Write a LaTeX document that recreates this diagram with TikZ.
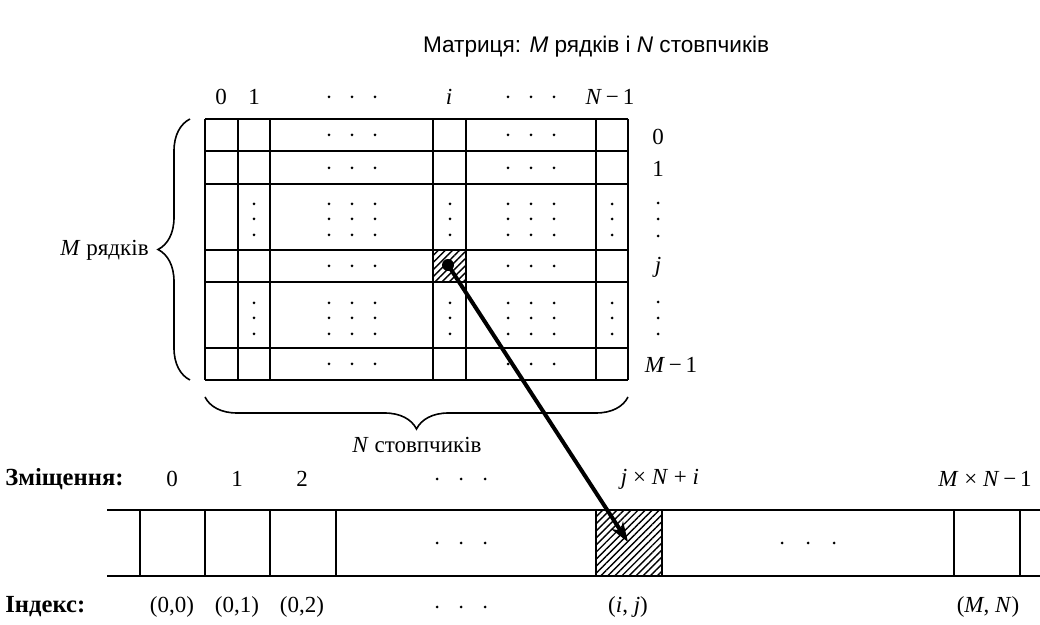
\documentclass[tikz,border=0pt]{standalone}
\usepackage{fontspec}
\setmainfont{Liberation Serif}
\newfontfamily\titlefont{Liberation Sans}
\usetikzlibrary{decorations.pathreplacing,patterns.meta,arrows.meta}
\newcommand\hdts[3]{\foreach \d in {-1,0,1}{\fill ({#1+\d*#3},#2) circle (1.5);}}
\newcommand\vdts[4]{\foreach \yy in {#2,#3,#4}{\fill (#1,\yy) circle (1.5);}}
\begin{document}
\begin{tikzpicture}[x=0.5pt,y=-0.5pt,
  font=\fontsize{11.5}{13}\selectfont,
  gridline/.style={line width=1.2pt},
  lbl/.style={inner sep=0pt},
  hatch/.style={pattern={Lines[angle=45,distance=2.5pt,line width=0.7pt]}},
  bracestyle/.style={decorate,decoration={brace,amplitude=16pt},line width=0.8pt}]
\useasboundingbox (0,0) rectangle (1040,625);

% title
\node[lbl,font=\titlefont\fontsize{11.3}{13}\selectfont] (title) at (596,47) {Матриця: \textit{M} рядків і \textit{N} стовпчиків};

% matrix hatched cell
\node[draw,gridline,hatch,minimum width=16.5pt,minimum height=16pt,inner sep=0pt] (mij) at (449.5,266) {};
% matrix grid
\foreach \x in {205,238,270,433,466,596,628}{\draw[gridline] (\x,119) -- (\x,380);}
\foreach \y in {119,151,184,250,282,348,380}{\draw[gridline] (205,\y) -- (628,\y);}

% dots inside matrix
\foreach \y in {135,168,266,364}{\hdts{352}{\y}{23}\hdts{531}{\y}{23}}
\foreach \a/\b/\c in {204/219/235,303/318/334}{
  \vdts{254}{\a}{\b}{\c}\vdts{450}{\a}{\b}{\c}\vdts{612}{\a}{\b}{\c}
  \foreach \y in {\a,\b,\c}{\hdts{352}{\y}{23}\hdts{531}{\y}{23}}
}

% column labels
\node[lbl] (c0) at (221,97) {0};
\node[lbl] (c1) at (254,97) {1};
\hdts{352}{97}{23}
\node[lbl] (ci) at (449,97) {\textit{i}};
\hdts{531}{97}{23}
\node[lbl] (cn) at (610,97) {\textit{N}\,−\,1};

% row labels
\node[lbl] (r0) at (658,137) {0};
\node[lbl] (r1) at (658,169) {1};
\vdts{658}{203}{219}{236}
\node[lbl] (rj) at (658,267) {\textit{j}};
\vdts{658}{302}{318}{334}
\node[lbl] (rm) at (671,365) {\textit{M}\,−\,1};

% braces
\draw[bracestyle] (190,380) -- (190,119);
\node[lbl,anchor=east] (mrows) at (149,250) {\textit{M} рядків};
\draw[bracestyle] (628,397) -- (205,397);
\node[lbl] (ncols) at (417,445) {\textit{N} стовпчиків};

% linear array
\node[draw,gridline,hatch,minimum width=33pt,minimum height=33pt,inner sep=0pt] (aij) at (629,543) {};
\draw[gridline] (107,510) -- (1040,510);
\draw[gridline] (107,576) -- (1040,576);
\foreach \x in {140,205,270,336,954,1020}{\draw[gridline] (\x,510) -- (\x,576);}
\hdts{461}{543}{24}
\hdts{808}{543}{26}

% offsets
\node[lbl,anchor=west,font=\fontsize{12.3}{14}\selectfont\bfseries] (offl) at (5,479) {Зміщення:};
\node[lbl] (o0) at (172,479) {0};
\node[lbl] (o1) at (237,479) {1};
\node[lbl] (o2) at (302,479) {2};
\hdts{461}{479}{24}
\node[lbl] (oij) at (660,479) {\textit{j} × \textit{N} + \textit{i}};
\node[lbl,anchor=east] (omn) at (1032,479) {\textit{M} × \textit{N}\,−\,1};

% indices
\node[lbl,anchor=west,font=\fontsize{12.3}{14}\selectfont\bfseries] (idxl) at (5,607) {Індекс:};
\node[lbl] (i0) at (172,607) {(0,0)};
\node[lbl] (i1) at (237,607) {(0,1)};
\node[lbl] (i2) at (302,607) {(0,2)};
\hdts{461}{607}{24}
\node[lbl] (iij) at (628,607) {(\textit{i}, \textit{j})};
\node[lbl] (imn) at (988,607) {(\textit{M}, \textit{N})};

% arrow
\node[circle,fill,inner sep=0pt,minimum size=6pt] (dot) at (448,265) {};
\coordinate (tip) at (628,542);
\draw[line width=2pt,-{Stealth[length=10pt,width=7pt]}] (dot.center) -- (tip);
\end{tikzpicture}
\end{document}
